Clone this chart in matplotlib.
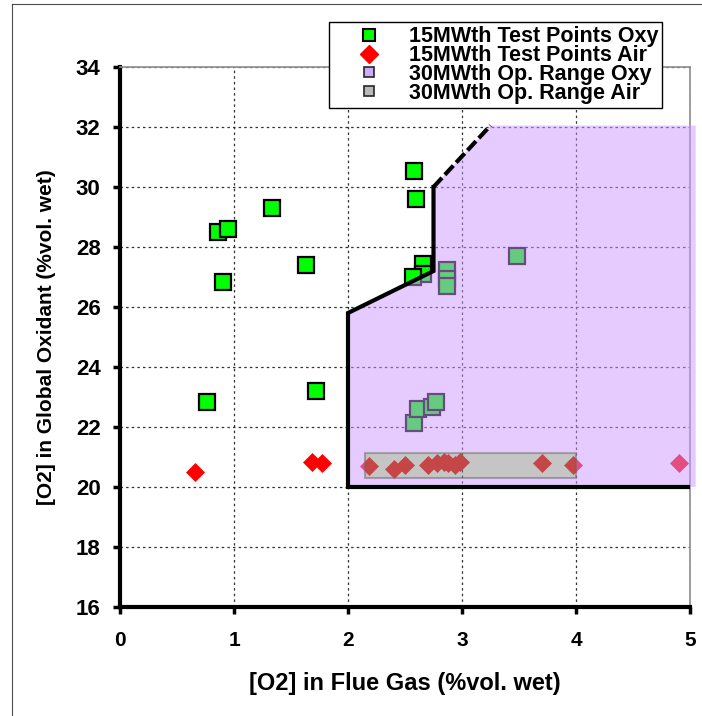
import numpy as np
import matplotlib
matplotlib.use("Agg")
import matplotlib.pyplot as plt
from matplotlib.path import Path
from matplotlib.patches import PathPatch, Rectangle
from matplotlib.lines import Line2D

plt.rcParams['font.family'] = ['Liberation Sans', 'DejaVu Sans']
plt.rcParams['font.weight'] = 'bold'

# 15MWth test points, oxy-firing
oxy_x = [0.76, 0.86, 0.95, 0.90, 1.33, 1.63, 1.72, 2.58, 2.60, 2.66, 2.66, 2.57,
         2.87, 2.87, 2.87, 3.48, 2.58, 2.61, 2.74, 2.77]
oxy_y = [22.85, 28.5, 28.6, 26.85, 29.3, 27.4, 23.2, 30.55, 29.6, 27.45, 27.1, 27.0,
         27.25, 26.95, 26.7, 27.7, 22.13, 22.6, 22.67, 22.85]

# 15MWth test points, air-firing
air_x = [0.66, 1.68, 1.77, 2.18, 2.40, 2.50, 2.70, 2.78, 2.84, 2.88, 2.94, 2.98,
         3.70, 3.97, 4.90]
air_y = [20.5, 20.83, 20.8, 20.7, 20.6, 20.75, 20.72, 20.8, 20.83, 20.8, 20.75, 20.83,
         20.8, 20.75, 20.8]

# 30MWth operating range, oxy (polygon) and air (box)
range_oxy_x = [2.0, 2.0, 2.75, 2.75, 3.25, 5.05, 5.05]
range_oxy_y = [20.0, 25.8, 27.2, 30.0, 32.05, 32.05, 20.0]
range_air_x = [2.15, 4.0]
range_air_y = [20.3, 21.15]

# limit line drawn round the oxy range
limit_x = [5.0, 2.0, 2.0, 2.75, 2.75]
limit_y = [20.0, 20.0, 25.8, 27.2, 30.0]
limit_dash_x = [2.75, 3.25]
limit_dash_y = [30.0, 32.05]

labels = ["15MWth Test Points Oxy", "15MWth Test Points Air",
          "30MWth Op. Range Oxy", "30MWth Op. Range Air"]

fig = plt.figure(figsize=(7.02, 7.16), dpi=100)
ax = fig.add_axes([120/702, 1-607/716, 570/702, 540/716])

ax.plot(oxy_x, oxy_y, 's', ms=11, mfc='#00ff00', mec='black', mew=1.6, zorder=2)
ax.plot(air_x, air_y, 'D', ms=9, mfc='red', mec='red', mew=0.5, zorder=2)

# oxy range with a hole where the air box sits
verts = list(zip(range_oxy_x, range_oxy_y)) + [(0, 0)]
codes = [Path.MOVETO] + [Path.LINETO] * (len(range_oxy_x) - 1) + [Path.CLOSEPOLY]
x0, x1 = range_air_x
y0, y1 = range_air_y
verts += [(x0, y0), (x1, y0), (x1, y1), (x0, y1), (0, 0)]
codes += [Path.MOVETO, Path.LINETO, Path.LINETO, Path.LINETO, Path.CLOSEPOLY]
ax.add_patch(PathPatch(Path(verts, codes), facecolor=(0.8, 0.6, 1.0), alpha=0.5,
                       edgecolor='none', zorder=3, clip_on=False))
ax.add_patch(Rectangle((x0, y0), x1 - x0, y1 - y0, facecolor=(0.55, 0.55, 0.55),
                       alpha=0.5, edgecolor=(0.4, 0.4, 0.4), lw=1.5, zorder=3))

ax.plot(limit_x, limit_y, color='black', lw=3, zorder=4, solid_joinstyle='miter')
ax.plot(limit_dash_x, limit_dash_y, color='black', lw=3, zorder=4,
        linestyle=(0, (3, 1)))

ax.set_xlim(0, 5)
ax.set_ylim(16, 34)
ax.set_xticks(range(0, 6))
ax.set_yticks(range(16, 35, 2))
ax.set_axisbelow(True)
ax.grid(True, color='0.2', lw=0.9, linestyle=(0, (2, 2.5)))

for s in ['left', 'bottom']:
    ax.spines[s].set_linewidth(3)
    ax.spines[s].set_color('black')
for s in ['top', 'right']:
    ax.spines[s].set_linewidth(1.2)
    ax.spines[s].set_color('0.55')
ax.tick_params(direction='out', length=5, width=2.5, color='black')
ax.tick_params(axis='y', labelsize=16, pad=9)
ax.tick_params(axis='x', labelsize=15, pad=12)
for lab in ax.get_xticklabels() + ax.get_yticklabels():
    lab.set_fontweight('bold')

ax.set_xlabel("[O2] in Flue Gas (%vol. wet)", fontsize=17, fontweight='bold',
              labelpad=16)
ax.set_ylabel("[O2] in Global Oxidant (%vol. wet)", fontsize=15, fontweight='bold',
              labelpad=14)

handles = [
    Line2D([], [], ls='none', marker='s', ms=9, mfc='#00ff00', mec='black', mew=1.5),
    Line2D([], [], ls='none', marker='D', ms=9, mfc='red', mec='red'),
    Line2D([], [], ls='none', marker='s', ms=7, mfc=(0.8, 0.67, 1.0), mec='0.15', mew=1.2),
    Line2D([], [], ls='none', marker='s', ms=7, mfc=(0.72, 0.72, 0.72), mec='0.15', mew=1.2),
]
leg = ax.legend(handles, labels, loc='upper left',
                bbox_to_anchor=(329/702, 1-22/716), bbox_transform=fig.transFigure,
                borderaxespad=0, fancybox=False, framealpha=1, edgecolor='black',
                prop={'size': 15.5, 'weight': 'bold'}, labelspacing=-0.1,
                handlelength=3.3, handletextpad=0.2, borderpad=0.2)
leg.get_frame().set_linewidth(1.0)
leg.set_zorder(10)

# outer frame of the picture
fig.add_artist(Line2D([12/702, 12/702], [0, 1-4/716], transform=fig.transFigure,
                      color='0.3', lw=0.8))
fig.add_artist(Line2D([12/702, 1], [1-4/716, 1-4/716], transform=fig.transFigure,
                      color='0.3', lw=0.8))

fig.savefig("out.png", dpi=100)
